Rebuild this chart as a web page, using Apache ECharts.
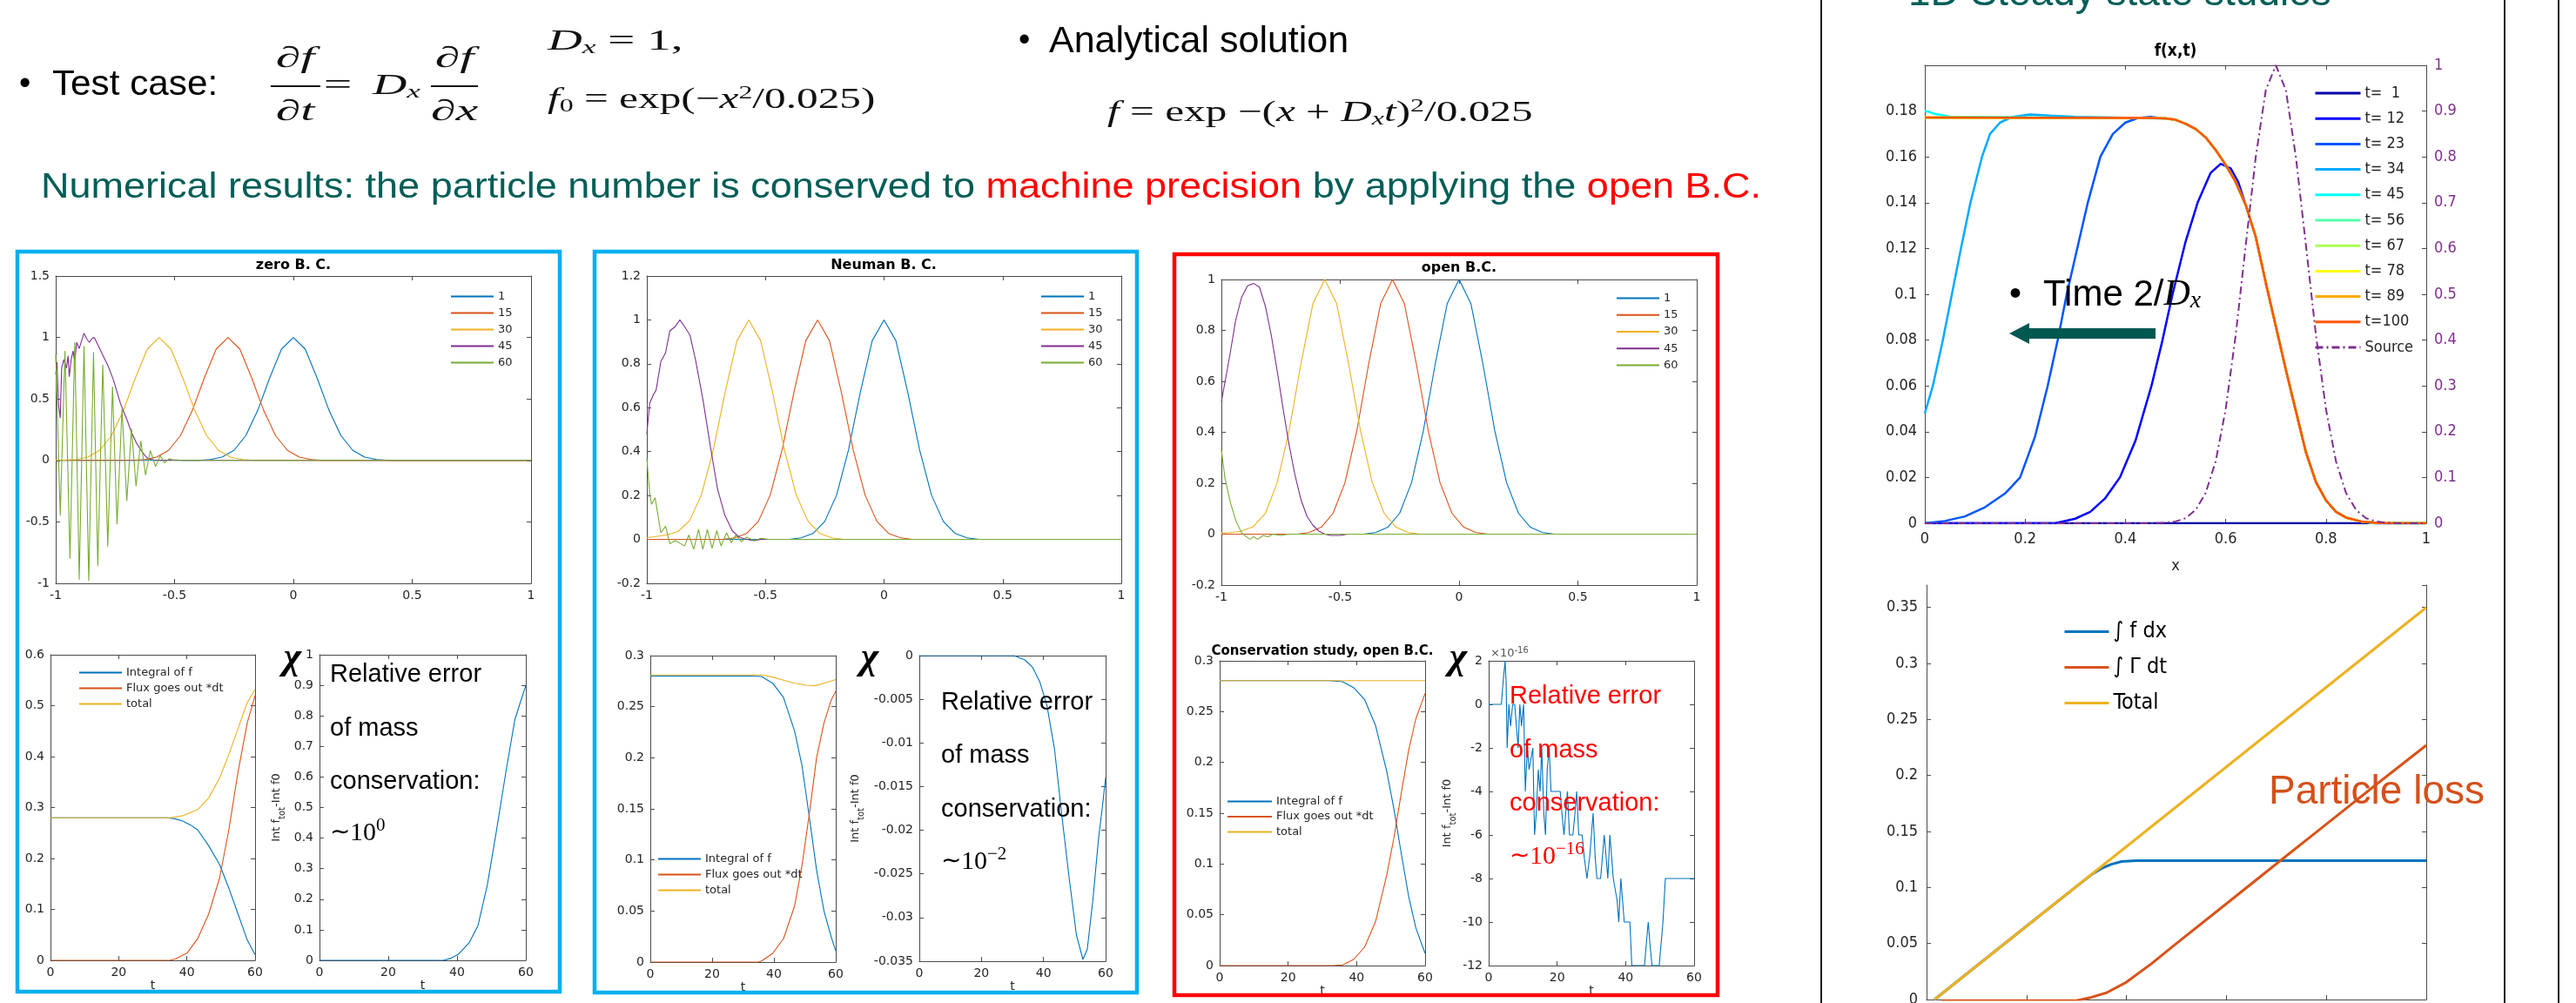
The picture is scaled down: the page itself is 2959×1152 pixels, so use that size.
<!DOCTYPE html>
<html><head><meta charset="utf-8">
<script src="https://cdn.jsdelivr.net/npm/echarts@6/dist/echarts.min.js"></script>
<style>html,body{margin:0;padding:0;background:#fff;}#c{width:2959px;height:1152px;}</style>
</head><body><div id="c"></div>
<script>
// ---------------- DATA ----------------
const pulseNames = ['1','15','30','45','60'];
const consNames = ['Integral of f','Flux goes out *dt','total'];
const steadyNames = ['t=  1','t= 12','t= 23','t= 34','t= 45','t= 56','t= 67','t= 78','t= 89','t=100','Source'];
const lossNames = ['\u222B f dx','\u222B \u0393 dt','Total'];

// axis ranges [min, max, interval]
const pulseX = [-1, 1, 0.5];
const zeroBCY = [-1, 1.5, 0.5];
const neuY = [-0.2, 1.2, 0.2];
const openY = [-0.2, 1, 0.2];
const timeX = [0, 60, 20];
const cons1Y = [0, 0.6, 0.1];
const err1Y = [0, 1, 0.1];
const cons2Y = [0, 0.3, 0.05];
const err2Y = [-0.035, 0, 0.005];
const cons3Y = [0, 0.3, 0.05];
const err3Y = [-12, 2, 2];
const steadyX = [0, 1, 0.2];
const steadyY = [0, 0.2, 0.02];
const sourceY = [0, 1, 0.1];
const lossY = [0, 0.37, 0.05];

// zero B.C.
const zeroBC_t1 = [[-1,0],[-0.4,0],[-0.35,0.007],[-0.3,0.027],[-0.25,0.082],[-0.2,0.202],[-0.15,0.407],[-0.1,0.67],[-0.05,0.905],[0,1],[0.05,0.905],[0.1,0.67],[0.15,0.407],[0.2,0.202],[0.25,0.082],[0.3,0.027],[0.35,0.007],[0.4,0],[1,0]];
const zeroBC_t15 = [[-1,0],[-0.675,0],[-0.625,0.007],[-0.575,0.027],[-0.525,0.082],[-0.475,0.202],[-0.425,0.407],[-0.375,0.67],[-0.325,0.905],[-0.275,1],[-0.225,0.905],[-0.175,0.67],[-0.125,0.407],[-0.075,0.202],[-0.025,0.082],[0.025,0.027],[0.075,0.007],[0.125,0],[1,0]];
const zeroBC_t30 = [[-1,0.002],[-0.965,0.003],[-0.915,0.007],[-0.865,0.027],[-0.815,0.082],[-0.765,0.202],[-0.715,0.407],[-0.665,0.67],[-0.615,0.905],[-0.565,1],[-0.515,0.905],[-0.465,0.67],[-0.415,0.407],[-0.365,0.202],[-0.315,0.082],[-0.265,0.027],[-0.215,0.007],[-0.165,0],[1,0]];
const zeroBC_t45 = [[-1,0.70],[-0.995,0.80],[-0.988,0.45],[-0.981,0.345],[-0.975,0.75],[-0.966,0.82],[-0.955,0.75],[-0.948,0.85],[-0.943,0.68],[-0.935,0.82],[-0.927,0.89],[-0.92,0.80],[-0.912,0.96],[-0.901,0.91],[-0.89,0.98],[-0.881,1.035],[-0.87,0.99],[-0.858,0.96],[-0.848,0.99],[-0.838,1.0],[-0.82,0.93],[-0.804,0.865],[-0.78,0.77],[-0.758,0.66],[-0.727,0.46],[-0.7,0.33],[-0.681,0.227],[-0.66,0.14],[-0.642,0.085],[-0.625,0.04],[-0.611,0.014],[-0.59,0.004],[-0.56,0],[-0.5,0.004],[-0.45,0],[1,0]];
const zeroBC_t60 = [[-1,0.86],[-0.981,-0.45],[-0.961,0.89],[-0.94,-0.8],[-0.92,0.96],[-0.901,-0.97],[-0.881,0.93],[-0.861,-0.98],[-0.841,0.88],[-0.823,-0.86],[-0.802,0.78],[-0.781,-0.7],[-0.761,0.6],[-0.742,-0.52],[-0.721,0.42],[-0.701,-0.33],[-0.681,0.26],[-0.662,-0.21],[-0.642,0.16],[-0.622,-0.12],[-0.602,0.08],[-0.58,-0.05],[-0.56,0.04],[-0.542,-0.02],[-0.522,0.015],[-0.503,0],[1,0]];

// Neuman B.C.
const neu_t1 = [[-1,0],[-0.4,0],[-0.35,0.007],[-0.3,0.027],[-0.25,0.082],[-0.2,0.202],[-0.15,0.407],[-0.1,0.67],[-0.05,0.905],[0,1],[0.05,0.905],[0.1,0.67],[0.15,0.407],[0.2,0.202],[0.25,0.082],[0.3,0.027],[0.35,0.007],[0.4,0],[1,0]];
const neu_t15 = [[-1,0],[-0.68,0],[-0.63,0.007],[-0.58,0.027],[-0.53,0.082],[-0.48,0.202],[-0.43,0.407],[-0.38,0.67],[-0.33,0.905],[-0.28,1],[-0.23,0.905],[-0.18,0.67],[-0.13,0.407],[-0.08,0.202],[-0.03,0.082],[0.02,0.027],[0.07,0.007],[0.12,0],[1,0]];
const neu_t30 = [[-1,0.008],[-0.97,0.012],[-0.92,0.02],[-0.87,0.035],[-0.82,0.085],[-0.77,0.202],[-0.72,0.407],[-0.67,0.67],[-0.62,0.905],[-0.57,1],[-0.52,0.905],[-0.47,0.67],[-0.42,0.407],[-0.37,0.202],[-0.32,0.082],[-0.27,0.027],[-0.22,0.007],[-0.17,0],[1,0]];
const neu_t45 = [[-1,0.48],[-0.988,0.62],[-0.972,0.66],[-0.961,0.68],[-0.941,0.81],[-0.921,0.85],[-0.903,0.95],[-0.88,0.97],[-0.861,1.0],[-0.841,0.97],[-0.818,0.93],[-0.795,0.82],[-0.764,0.64],[-0.733,0.43],[-0.702,0.23],[-0.671,0.11],[-0.64,0.04],[-0.61,0.01],[-0.579,0],[-0.548,-0.005],[-0.517,0],[1,0]];
const neu_t60 = [[-1,0.37],[-0.988,0.21],[-0.98,0.16],[-0.965,0.19],[-0.941,0.03],[-0.921,0.06],[-0.903,-0.02],[-0.88,-0.005],[-0.856,-0.02],[-0.841,-0.03],[-0.823,0.02],[-0.802,-0.045],[-0.782,0.045],[-0.764,-0.045],[-0.745,0.045],[-0.725,-0.04],[-0.705,0.04],[-0.687,-0.03],[-0.664,0.03],[-0.644,-0.015],[-0.625,0.02],[-0.602,-0.01],[-0.579,0.01],[-0.548,-0.005],[-0.517,0.005],[-0.486,0],[1,0]];

// open B.C.
const open_t1 = [[-1,0],[-0.4,0],[-0.35,0.007],[-0.3,0.027],[-0.25,0.082],[-0.2,0.202],[-0.15,0.407],[-0.1,0.67],[-0.05,0.905],[0,1],[0.05,0.905],[0.1,0.67],[0.15,0.407],[0.2,0.202],[0.25,0.082],[0.3,0.027],[0.35,0.007],[0.4,0],[1,0]];
const open_t15 = [[-1,0],[-0.68,0],[-0.63,0.007],[-0.58,0.027],[-0.53,0.082],[-0.48,0.202],[-0.43,0.407],[-0.38,0.67],[-0.33,0.905],[-0.28,1],[-0.23,0.905],[-0.18,0.67],[-0.13,0.407],[-0.08,0.202],[-0.03,0.082],[0.02,0.027],[0.07,0.007],[0.12,0],[1,0]];
const open_t30 = [[-1,0.004],[-0.965,0.006],[-0.915,0.012],[-0.865,0.03],[-0.815,0.082],[-0.765,0.202],[-0.715,0.407],[-0.665,0.67],[-0.615,0.905],[-0.565,1],[-0.515,0.905],[-0.465,0.67],[-0.415,0.407],[-0.365,0.202],[-0.315,0.082],[-0.265,0.027],[-0.215,0.007],[-0.165,0],[1,0]];
const open_t45 = [[-1,0.52],[-0.965,0.7],[-0.94,0.84],[-0.915,0.93],[-0.89,0.975],[-0.865,0.985],[-0.84,0.97],[-0.815,0.895],[-0.79,0.78],[-0.765,0.64],[-0.74,0.49],[-0.715,0.35],[-0.69,0.23],[-0.665,0.135],[-0.64,0.07],[-0.615,0.035],[-0.59,0.012],[-0.565,0],[-0.54,-0.005],[-0.5,-0.005],[-0.47,0],[1,0]];
const open_t60 = [[-1,0.33],[-0.985,0.22],[-0.961,0.12],[-0.938,0.05],[-0.915,0.005],[-0.895,-0.01],[-0.88,-0.02],[-0.865,-0.01],[-0.847,-0.02],[-0.825,-0.005],[-0.803,-0.01],[-0.785,0],[-0.75,-0.005],[-0.72,0],[1,0]];

// conservation, zero B.C.
const cons1_int = [[0,0.28],[34,0.28],[36.5,0.278],[38.9,0.273],[41,0.266],[43.2,0.256],[46.4,0.225],[49.6,0.188],[52.3,0.142],[55,0.091],[57.7,0.04],[60,0.011]];
const cons1_flux = [[0,0],[35,0],[36.7,0.003],[40,0.014],[43.2,0.043],[46.4,0.091],[49.6,0.162],[52.3,0.256],[55,0.37],[57.7,0.466],[60,0.52]];
const cons1_total = [[0,0.28],[35,0.28],[38.9,0.284],[43.2,0.296],[46.4,0.319],[49.6,0.358],[52.3,0.404],[55,0.455],[57.7,0.506],[60,0.532]];
const err1 = [[0,0],[36,0],[38,0.006],[40.3,0.019],[43.5,0.057],[46.1,0.114],[48.8,0.246],[51.5,0.427],[54.2,0.616],[56.8,0.787],[58.4,0.844],[60,0.899]];
// conservation, Neuman B.C.
const cons2_int = [[0,0.28],[32,0.28],[36,0.2795],[39.6,0.273],[43.1,0.259],[46.7,0.226],[49.1,0.192],[51.5,0.141],[53.8,0.09],[56.2,0.05],[58.6,0.024],[60,0.011]];
const cons2_flux = [[0,0],[35,0],[36,0.001],[39.6,0.0085],[43.1,0.023],[46.7,0.055],[49.1,0.095],[51.5,0.146],[53.8,0.2],[56.2,0.234],[58.6,0.257],[60,0.265]];
const cons2_total = [[0,0.281],[36,0.281],[39.6,0.279],[43.1,0.276],[46.7,0.273],[50.3,0.271],[53.2,0.2705],[56.2,0.273],[60,0.2765]];
const err2 = [[0,0],[30.5,0],[34,-0.0005],[36.4,-0.0013],[38.8,-0.003],[41.1,-0.0057],[43.5,-0.0106],[45.8,-0.018],[48.2,-0.0253],[50.6,-0.032],[52.7,-0.0348],[54.1,-0.0336],[55.9,-0.028],[57.7,-0.021],[58.9,-0.0175],[60,-0.014]];
// conservation, open B.C.
const cons3_int = [[0,0.2805],[32,0.2805],[35.9,0.2794],[39.1,0.2737],[42.3,0.262],[45.5,0.2366],[48.8,0.191],[50.9,0.154],[53,0.111],[55.2,0.068],[57.3,0.037],[60,0.012]];
const cons3_flux = [[0,0],[33,0],[35.9,0.0006],[39.1,0.006],[42.3,0.018],[45.5,0.043],[48.8,0.089],[50.9,0.126],[53,0.169],[55.2,0.212],[57.3,0.243],[60,0.268]];
const cons3_total = [[0,0.2805],[60,0.2805]];
// relative error, open B.C. (units of 1e-16)
const err3 = [[0,0],[3.7,0],[4.2,1],[4.8,2],[5.1,1],[5.4,-2],[5.9,0],[6.4,-1],[7,0],[7.6,0],[8.1,-1],[8.6,-2],[9.1,0],[9.6,-1],[10.2,0],[10.7,-4],[11.3,-2],[11.8,-3],[12.9,-2],[13.4,-6],[13.9,-5],[14.5,-3],[15,-4],[15.5,-2],[16.1,-5],[16.6,-6],[17.1,-3],[17.7,-2],[18.2,-4],[20.9,-4],[21.4,-5],[22,-6],[22.5,-5],[23,-4],[23.6,-6],[24.6,-6],[25.2,-5],[25.7,-4],[26.3,-6],[27.3,-6],[27.9,-7],[28.7,-8],[29.5,-7],[30.5,-5],[31.1,-7],[31.6,-8],[32.7,-8],[33.75,-6],[34.3,-7],[34.8,-8],[35.4,-6],[35.9,-7],[36.4,-8],[37.5,-9],[38,-10],[38.6,-8],[39.1,-9],[39.6,-10],[41.25,-10],[41.8,-12],[45.5,-12],[46.6,-10],[47.1,-11],[47.7,-12],[49.8,-12],[50.9,-10],[51.6,-8],[60,-8]];

// 1D steady state f(x,t)
const st_t1 = [[0,0],[1,0]];
const st_t12 = [[0,0],[0.26,0],[0.3,0.002],[0.33,0.005],[0.36,0.011],[0.389,0.02],[0.42,0.036],[0.452,0.06],[0.474,0.08],[0.494,0.1],[0.52,0.123],[0.544,0.14],[0.57,0.153],[0.59,0.157],[0.61,0.155],[0.625,0.149],[0.64,0.139],[0.66,0.125],[0.68,0.105],[0.7,0.086],[0.72,0.067],[0.74,0.049],[0.76,0.031],[0.78,0.018],[0.8,0.01],[0.82,0.005],[0.84,0.0025],[0.87,0.0008],[0.9,0],[1,0]];
const st_t23 = [[0,0],[0.04,0.001],[0.08,0.003],[0.12,0.007],[0.16,0.013],[0.19,0.02],[0.22,0.038],[0.245,0.06],[0.265,0.08],[0.283,0.1],[0.305,0.121],[0.325,0.14],[0.35,0.16],[0.375,0.17],[0.4,0.175],[0.425,0.177],[0.45,0.1775],[0.5,0.1762],[0.52,0.1745],[0.54,0.1722],[0.56,0.1685],[0.58,0.163],[0.6,0.1565],[0.62,0.149],[0.64,0.139],[0.66,0.125],[0.68,0.105],[0.7,0.086],[0.72,0.067],[0.74,0.049],[0.76,0.031],[0.78,0.018],[0.8,0.01],[0.82,0.005],[0.84,0.0025],[0.87,0.0008],[0.9,0],[1,0]];
const st_t34 = [[0,0.048],[0.016,0.06],[0.036,0.08],[0.054,0.1],[0.072,0.12],[0.091,0.14],[0.114,0.16],[0.13,0.17],[0.15,0.175],[0.175,0.1775],[0.21,0.1785],[0.25,0.178],[0.3,0.1775],[0.48,0.1768],[0.5,0.1762],[0.52,0.1745],[0.54,0.1722],[0.56,0.1685],[0.58,0.163],[0.6,0.1565],[0.62,0.149],[0.64,0.139],[0.66,0.125],[0.68,0.105],[0.7,0.086],[0.72,0.067],[0.74,0.049],[0.76,0.031],[0.78,0.018],[0.8,0.01],[0.82,0.005],[0.84,0.0025],[0.87,0.0008],[0.9,0],[1,0]];
const st_t45 = [[0,0.1802],[0.02,0.1788],[0.05,0.1776],[0.48,0.1768],[0.5,0.1762],[0.52,0.1745],[0.54,0.1722],[0.56,0.1685],[0.58,0.163],[0.6,0.1565],[0.62,0.149],[0.64,0.139],[0.66,0.125],[0.68,0.105],[0.7,0.086],[0.72,0.067],[0.74,0.049],[0.76,0.031],[0.78,0.018],[0.8,0.01],[0.82,0.005],[0.84,0.0025],[0.87,0.0008],[0.9,0],[1,0]];
const st_flat = [[0,0.1772],[0.45,0.177],[0.48,0.1768],[0.5,0.1762],[0.52,0.1745],[0.54,0.1722],[0.56,0.1685],[0.58,0.163],[0.6,0.1565],[0.62,0.149],[0.64,0.139],[0.66,0.125],[0.68,0.105],[0.7,0.086],[0.72,0.067],[0.74,0.049],[0.76,0.031],[0.78,0.018],[0.8,0.01],[0.82,0.005],[0.84,0.0025],[0.87,0.0008],[0.9,0.0002],[0.93,0],[1,0]];
const st_source = [[0,0],[0.45,0],[0.48,0.001],[0.5,0.004],[0.52,0.011],[0.54,0.029],[0.56,0.066],[0.58,0.135],[0.6,0.249],[0.62,0.411],[0.64,0.607],[0.66,0.8],[0.68,0.946],[0.7,1],[0.72,0.946],[0.74,0.8],[0.76,0.607],[0.78,0.411],[0.8,0.249],[0.82,0.135],[0.84,0.066],[0.86,0.029],[0.88,0.011],[0.9,0.004],[0.92,0.001],[0.95,0],[1,0]];
// particle balance
const loss_int = [[0.016,0],[0.1,0.0299],[0.2,0.0655],[0.3,0.101],[0.33,0.1115],[0.35,0.117],[0.37,0.1208],[0.39,0.1232],[0.42,0.124],[1,0.124]];
const loss_flux = [[0.03,-0.001],[0.3,-0.001],[0.33,0.002],[0.36,0.006],[0.4,0.0155],[0.45,0.032],[0.5,0.05],[0.6,0.0855],[0.708,0.124],[0.8,0.1565],[0.9,0.192],[1,0.227]];
const loss_total = [[0.016,0],[1,0.35]];

// ---------------- STYLE ----------------
const C_BLUE='#0072BD', C_RED='#D95319', C_YEL='#EDB120', C_PUR='#7E2F8E', C_GRN='#77AC30';
const JET = ['#0000AA','#0000FF','#0055FF','#00AAFF','#00FFFF','#55FFAA','#AAFF55','#FFFF00','#FFAA00','#FF5500'];
const AX = '#4a4a4a', TXT = '#262626';
const MFONT = "'DejaVu Sans', sans-serif";
const CFONT = "'DejaVu Sans Condensed', 'DejaVu Sans', sans-serif";
const SANS = "'Liberation Sans', Arial, sans-serif";
const SERIF = "'Liberation Serif', 'Times New Roman', serif";
const TEAL = '#005E57';

const grids = [], xAxes = [], yAxes = [], series = [], legends = [], g = [];

function axis(gi, r, pos, label, extra) {
  return Object.assign({
    type: 'value', gridIndex: gi, position: pos, min: r[0], max: r[1], interval: r[2],
    axisLine: {show: true, onZero: false, lineStyle: {color: AX, width: 1}},
    axisTick: {show: true, inside: true, length: 5, lineStyle: {color: AX}},
    axisLabel: label || {show: false},
    splitLine: {show: false}
  }, extra || {});
}
function addPanel(rect, xr, yr, o) {
  o = o || {};
  const gi = grids.length;
  grids.push({left: rect[0], top: rect[1], width: rect[2], height: rect[3], containLabel: false, outerBoundsMode: 'none'});
  const lab = Object.assign({show: true, fontSize: o.fs || 14, fontFamily: o.ff || MFONT, color: TXT, margin: o.margin || 7}, o.lab || {});
  const xi = xAxes.length;
  xAxes.push(axis(gi, xr, 'bottom', Object.assign({}, lab, o.xlab || {}), o.xExtra));
  if (o.top !== false) xAxes.push(axis(gi, xr, 'top', null));
  const yi = yAxes.length;
  yAxes.push(axis(gi, yr, 'left', Object.assign({}, lab, o.ylab || {}), o.yExtra));
  if (o.yr2) yAxes.push(axis(gi, o.yr2, 'right', Object.assign({}, lab, o.y2lab || {}), o.y2Extra));
  else yAxes.push(axis(gi, yr, 'right', null));
  return {xi: xi, yi: yi, yi2: yi + 1};
}
function line(ax, name, data, color, width, extra) {
  series.push(Object.assign({
    type: 'line', name: name, data: data, xAxisIndex: ax.xi, yAxisIndex: ax.yi,
    symbol: 'none', showSymbol: false, animation: false,
    lineStyle: {color: color, width: width || 1.2}, itemStyle: {color: color}
  }, extra || {}));
}
function legend(names, left, top, o) {
  legends.push(Object.assign({
    orient: 'vertical', left: left, top: top, data: names, padding: 0,
    itemWidth: 49, itemHeight: 10, itemGap: 6, selectedMode: false,
    textStyle: {fontSize: 13, fontFamily: MFONT, color: TXT, padding: [0,0,0,0]},
    itemStyle: {opacity: 0, borderWidth: 0},
    lineStyle: {width: 2}
  }, o || {}));
}
function txt(x, y, style, extra) {
  g.push(Object.assign({type: 'text', x: x, y: y, z: 100, silent: true,
    style: Object.assign({fill: '#000', align: 'left', verticalAlign: 'middle'}, style)}, extra || {}));
}
const yName = {fontSize: 13, fontFamily: MFONT, color: TXT,
  rich: {a: {fontSize: 13, fontFamily: MFONT, color: TXT}, s: {fontSize: 10, fontFamily: MFONT, color: TXT, padding: [12, 0, 0, 0]}}};
const yNameText = '{a|Int f}{s|tot}{a|-Int f0}';
const tName = {name: 't', nameLocation: 'middle', nameGap: 21, nameTextStyle: {fontSize: 14, fontFamily: MFONT, color: TXT}};

// ---------------- PANEL 1: zero B.C. ----------------
let a = addPanel([64, 317, 546, 353], pulseX, zeroBCY);
const pulseCols = [C_BLUE, C_RED, C_YEL, C_PUR, C_GRN];
[zeroBC_t1, zeroBC_t15, zeroBC_t30, zeroBC_t45, zeroBC_t60].forEach((d, i) => line(a, pulseNames[i], d, pulseCols[i], 1.1));
legend(pulseNames, 517, 334);

a = addPanel([58, 752, 235, 351], timeX, cons1Y, {xExtra: tName});
line(a, consNames[0], cons1_int, C_BLUE, 1.1);
line(a, consNames[1], cons1_flux, C_RED, 1.1);
line(a, consNames[2], cons1_total, C_YEL, 1.1);
legend(consNames, 90, 766, {itemGap: 5});

a = addPanel([367, 752, 237, 351], timeX, err1Y, {xExtra: tName,
  yExtra: {name: yNameText, nameLocation: 'middle', nameRotate: 90, nameGap: 38, nameTextStyle: yName}});
line(a, 'err1', err1, C_BLUE, 1.1);

// ---------------- PANEL 2: Neuman B.C. ----------------
a = addPanel([743, 317, 545, 353], pulseX, neuY);
[neu_t1, neu_t15, neu_t30, neu_t45, neu_t60].forEach((d, i) => line(a, pulseNames[i], d, pulseCols[i], 1.1));
legend(pulseNames, 1195, 334);

a = addPanel([747, 753, 213, 352], timeX, cons2Y, {xExtra: tName});
line(a, consNames[0], cons2_int, C_BLUE, 1.1);
line(a, consNames[1], cons2_flux, C_RED, 1.1);
line(a, consNames[2], cons2_total, C_YEL, 1.1);
legend(consNames, 755, 980, {itemGap: 5});

a = addPanel([1056, 753, 214, 351], timeX, err2Y, {xExtra: tName,
  yExtra: {name: yNameText, nameLocation: 'middle', nameRotate: 90, nameGap: 62, nameTextStyle: yName}});
line(a, 'err2', err2, C_BLUE, 1.1);

// ---------------- PANEL 3: open B.C. ----------------
a = addPanel([1403, 321, 546, 351], pulseX, openY);
[open_t1, open_t15, open_t30, open_t45, open_t60].forEach((d, i) => line(a, pulseNames[i], d, pulseCols[i], 1.1));
legend(pulseNames, 1856, 336, {itemGap: 6.25});

a = addPanel([1401, 759, 236, 350], timeX, cons3Y, {xExtra: tName});
line(a, consNames[0], cons3_int, C_BLUE, 1.1);
line(a, consNames[1], cons3_flux, C_RED, 1.1);
line(a, consNames[2], cons3_total, C_YEL, 1.1);
legend(consNames, 1409, 914, {itemGap: 4.5, itemWidth: 51});

a = addPanel([1710, 759, 236, 350], timeX, err3Y, {xExtra: tName,
  yExtra: {name: yNameText, nameLocation: 'middle', nameRotate: 90, nameGap: 36, nameTextStyle: yName}});
line(a, 'err3', err3, C_BLUE, 1.1);

// ---------------- RIGHT: steady state ----------------
a = addPanel([2211, 75, 576, 526], steadyX, steadyY, {
  fs: 18, ff: CFONT, margin: 9,
  ylab: {showMaxLabel: false},
  xExtra: {name: 'x', nameLocation: 'middle', nameGap: 40, nameTextStyle: {fontSize: 18, fontFamily: CFONT, color: TXT}},
  yr2: sourceY, y2lab: {color: C_PUR}
});
[st_t1, st_t12, st_t23, st_t34, st_t45, st_flat, st_flat, st_flat, st_flat, st_flat].forEach((d, i) => line(a, steadyNames[i], d, JET[i], 2.5));
line(a, steadyNames[10], st_source, C_PUR, 2, {yAxisIndex: a.yi2, lineStyle: {color: C_PUR, width: 2, type: [9, 4, 2, 4]}});
legend(steadyNames, 2658, 98, {itemWidth: 52, itemHeight: 12, itemGap: 11.2,
  textStyle: {fontSize: 18, fontFamily: CFONT, color: TXT}, lineStyle: {width: 3}});

a = addPanel([2213, 672, 574, 476], steadyX, lossY, {fs: 18, ff: CFONT, margin: 10, top: false, ylab: {showMaxLabel: false}});
line(a, lossNames[0], loss_int, C_BLUE, 3);
line(a, lossNames[1], loss_flux, C_RED, 3);
line(a, lossNames[2], loss_total, C_YEL, 3);
legend(lossNames, 2370, 713, {itemWidth: 51, itemHeight: 18, itemGap: 16,
  textStyle: {fontSize: 25, fontFamily: CFONT, color: '#000'}, lineStyle: {width: 3}});

// ---------------- GRAPHICS ----------------
g.push({type: 'rect', z: 90, silent: true, shape: {x: 20, y: 289, width: 623, height: 850}, style: {fill: 'none', stroke: '#00B0F0', lineWidth: 4.5}});
g.push({type: 'rect', z: 90, silent: true, shape: {x: 683, y: 289, width: 623, height: 851}, style: {fill: 'none', stroke: '#00B0F0', lineWidth: 4.5}});
g.push({type: 'rect', z: 90, silent: true, shape: {x: 1349, y: 292, width: 624, height: 851}, style: {fill: 'none', stroke: '#FF0000', lineWidth: 4.5}});
[2092, 2877, 2939].forEach(x => g.push({type: 'line', z: 90, silent: true, shape: {x1: x, y1: 0, x2: x, y2: 1152}, style: {stroke: '#1a1a1a', lineWidth: 2}}));

// chart titles
txt(337, 305, {text: 'zero B. C.', fontSize: 16, fontWeight: 'bold', fontFamily: MFONT, align: 'center', fill: '#000'});
txt(1015, 305, {text: 'Neuman B. C.', fontSize: 16, fontWeight: 'bold', fontFamily: MFONT, align: 'center', fill: '#000'});
txt(1676, 308, {text: 'open B.C.', fontSize: 16, fontWeight: 'bold', fontFamily: MFONT, align: 'center', fill: '#000'});
txt(1519, 748, {text: 'Conservation study, open B.C.', fontSize: 15, fontWeight: 'bold', fontFamily: MFONT, align: 'center', fill: '#000'});
txt(1712, 751, {text: '{n|\u00D710}{p|-16}', rich: {n: {fontSize: 13, fontFamily: MFONT, fill: '#555'}, p: {fontSize: 10, fontFamily: MFONT, fill: '#555', padding: [0, 0, 8, 0]}}});
txt(2499, 59, {text: 'f(x,t)', fontSize: 19, fontWeight: 'bold', fontFamily: CFONT, align: 'center', fill: '#000'});

// chi symbols
[[336, 757], [999, 757], [1675, 757]].forEach(p => txt(p[0], p[1], {text: '\u03C7', fontSize: 44, fontWeight: 'bold', fontStyle: 'italic', fontFamily: SERIF, align: 'center'}));

// relative error annotations
function relErr(x, ys, exp, color) {
  ['Relative error', 'of mass', 'conservation:'].forEach((t, i) => txt(x, ys[i], {text: t, fontSize: 29, fontFamily: SANS, fill: color}));
  txt(x, ys[3], {text: '{t|\u223C}{n|10}{p|' + exp + '}', rich: {
    t: {fontSize: 28, fontFamily: SERIF, fill: color},
    n: {fontSize: 30, fontFamily: SERIF, fill: color},
    p: {fontSize: 21, fontFamily: SERIF, fill: color, padding: [0, 0, 18, 0]}}});
}
relErr(379, [775, 837, 898, 957], '0', '#000');
relErr(1081, [807, 868, 930, 990], '\u22122', '#000');
relErr(1734, [800, 862, 923, 984], '\u221216', '#FF0000');

// right panel annotations
txt(2192, 16, {text: '1D Steady state studies', fontSize: 46, fontFamily: SANS, fill: TEAL, verticalAlign: 'bottom'});
txt(2308, 339, {text: '\u2022', fontSize: 40, fontFamily: SANS});
txt(2347, 339, {text: '{n|Time 2/}{i|D}{s|x}', rich: {
  n: {fontSize: 42, fontFamily: SANS, fill: '#000'},
  i: {fontSize: 42, fontFamily: SERIF, fontStyle: 'italic', fill: '#000'},
  s: {fontSize: 28, fontFamily: SERIF, fontStyle: 'italic', fill: '#000', padding: [14, 0, 0, 0]}}});
g.push({type: 'polygon', z: 100, silent: true, shape: {points: [[2308, 383], [2331, 371], [2331, 377], [2476, 377], [2476, 389], [2331, 389], [2331, 395]]}, style: {fill: '#00584F'}});
txt(2606, 910, {text: 'Particle loss', fontSize: 46, fontFamily: SANS, fill: '#D4501A'});

// top text
txt(22, 98, {text: '\u2022', fontSize: 38, fontFamily: SANS});
txt(60, 98, {text: 'Test case:', fontSize: 41, fontFamily: SANS}, {scaleX: 1.03});
txt(1170, 48, {text: '\u2022', fontSize: 38, fontFamily: SANS});
txt(1205, 48, {text: 'Analytical solution', fontSize: 43, fontFamily: SANS});
txt(47, 216, {text: '{g|Numerical results: the particle number is conserved to }{r|machine precision}{g| by applying the }{r|open B.C.}',
  rich: {g: {fontSize: 40, fontFamily: SANS, fill: TEAL}, r: {fontSize: 40, fontFamily: SANS, fill: '#FF0000'}}}, {scaleX: 1.125});

// equations (stretched horizontally like the pasted equation images)
const EQ = '#111';
const eqRich = {
  u: {fontSize: 34, fontFamily: SERIF, fill: EQ},
  i: {fontSize: 34, fontFamily: SERIF, fontStyle: 'italic', fill: EQ},
  s: {fontSize: 22, fontFamily: SERIF, fontStyle: 'italic', fill: EQ, padding: [14, 0, 0, 0]},
  s0: {fontSize: 22, fontFamily: SERIF, fill: EQ, padding: [14, 0, 0, 0]},
  p: {fontSize: 22, fontFamily: SERIF, fill: EQ, padding: [0, 0, 16, 0]}
};
function eq(x, y, text, sx, align) {
  txt(x, y, {text: text, rich: eqRich, align: align || 'left'}, {scaleX: sx});
}
eq(339, 68, '{u|\u2202}{i|f}', 1.7, 'center');
eq(339, 129, '{u|\u2202}{i|t}', 1.7, 'center');
g.push({type: 'line', z: 100, silent: true, shape: {x1: 311, y1: 99, x2: 368, y2: 99}, style: {stroke: EQ, lineWidth: 2}});
eq(388, 99, '{u|=}', 1.7, 'center');
eq(428, 99, '{i|D}{s|x}', 1.6);
eq(522, 68, '{u|\u2202}{i|f}', 1.7, 'center');
eq(522, 129, '{u|\u2202}{i|x}', 1.7, 'center');
g.push({type: 'line', z: 100, silent: true, shape: {x1: 495, y1: 99, x2: 549, y2: 99}, style: {stroke: EQ, lineWidth: 2}});
eq(629, 48, '{i|D}{s|x}{u| = 1,}', 1.62);
eq(629, 115, '{i|f}{s0|0}{u| = exp(\u2212}{i|x}{p|2}{u|/0.025)}', 1.45);
eq(1272, 130, '{i|f}{u| = exp \u2212(}{i|x}{u| + }{i|D}{s|x}{i|t}{u|)}{p|2}{u|/0.025}', 1.45);

// ---------------- CHART ----------------
const chart = echarts.init(document.getElementById('c'), null, {renderer: 'canvas'});
chart.setOption({
  animation: false,
  backgroundColor: '#fff',
  grid: grids, xAxis: xAxes, yAxis: yAxes, series: series, legend: legends, graphic: g
});
</script></body></html>
